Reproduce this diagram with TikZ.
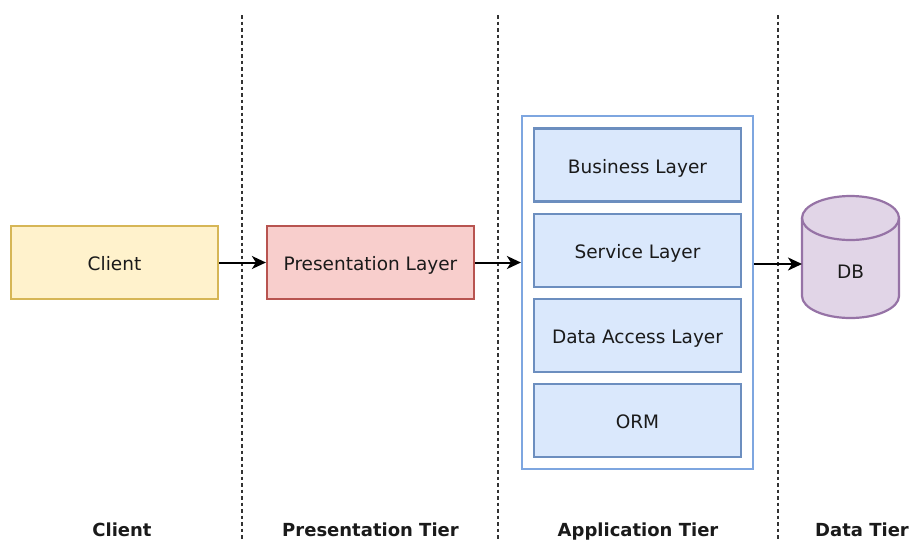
\documentclass[tikz,border=0pt]{standalone}
\usepackage{fontspec}
\setmainfont{DejaVu Sans}
\usetikzlibrary{arrows.meta}
\definecolor{clientfill}{HTML}{FFF2CC}
\definecolor{clientdraw}{HTML}{D6B656}
\definecolor{presfill}{HTML}{F8CECC}
\definecolor{presdraw}{HTML}{B85450}
\definecolor{appdraw}{HTML}{7EA6E0}
\definecolor{layerfill}{HTML}{DAE8FC}
\definecolor{layerdraw}{HTML}{6C8EBF}
\definecolor{dbfill}{HTML}{E1D5E7}
\definecolor{dbdraw}{HTML}{9673A6}
\definecolor{txt}{HTML}{1A1A1A}
\begin{document}
\begin{tikzpicture}[x=1pt,y=1pt,
  lbl/.style={font=\fontsize{18.5}{22}\selectfont,text=txt,text height=16pt,text depth=0pt},
  box/.style={lbl,rectangle,minimum width=207pt,minimum height=73pt,line width=2.2pt,inner sep=0pt},
  layer/.style={box,fill=layerfill,draw=layerdraw},
  tierlabel/.style={font=\fontsize{18}{21}\selectfont\bfseries,text=txt,anchor=base},
  divider/.style={draw=black!80,line width=1.1pt,dash pattern=on 3.5pt off 3pt},
  conn/.style={line width=2pt,-{Stealth[length=14pt,width=13pt,inset=4pt]}}]
\useasboundingbox (0,0) rectangle (912,-539);
% dividers
\coordinate (d1t) at (242,-15); \coordinate (d1b) at (242,-539);
\coordinate (d2t) at (498,-15); \coordinate (d2b) at (498,-539);
\coordinate (d3t) at (778,-15); \coordinate (d3b) at (778,-539);
\draw[divider] (d1t) -- (d1b);
\draw[divider] (d2t) -- (d2b);
\draw[divider] (d3t) -- (d3b);
% nodes
\node[box,fill=clientfill,draw=clientdraw] (client) at (114.5,-262.5) {Client};
\node[box,fill=presfill,draw=presdraw] (pres) at (370.5,-262.5) {Presentation Layer};
\node[rectangle,draw=appdraw,fill=white,line width=2.2pt,minimum width=231pt,minimum height=353pt] (app) at (637.5,-292.5) {};
\node[layer] (business) at (637.5,-165) {Business Layer};
\node[layer] (service) at (637.5,-250.5) {Service Layer};
\node[layer] (dal) at (637.5,-335.5) {Data Access Layer};
\node[layer] (orm) at (637.5,-420.5) {ORM};
% database cylinder
\filldraw[fill=dbfill,draw=dbdraw,line width=2.2pt] (802,-218) -- (802,-296)
  arc[start angle=180,end angle=360,x radius=48.5pt,y radius=22pt] -- (899,-218)
  arc[start angle=0,end angle=180,x radius=48.5pt,y radius=22pt] -- cycle;
\draw[dbdraw,line width=2.2pt] (802,-218) arc[start angle=180,end angle=360,x radius=48.5pt,y radius=22pt];
\node[lbl,inner sep=0pt] (db) at (850.5,-270) {DB};
\coordinate (dbin) at (802,-264);
% connectors
\draw[conn] (client) -- (pres);
\draw[conn] (pres) -- (pres -| app.west);
\draw[conn] (app.east |- dbin) -- (dbin);
% tier labels
\node[tierlabel] (lclient) at (122,-536.5) {Client};
\node[tierlabel] (lpres) at (370.5,-536.5) {Presentation Tier};
\node[tierlabel] (lapp) at (638,-536.5) {Application Tier};
\node[tierlabel] (ldata) at (862,-536.5) {Data Tier};
\end{tikzpicture}
\end{document}
